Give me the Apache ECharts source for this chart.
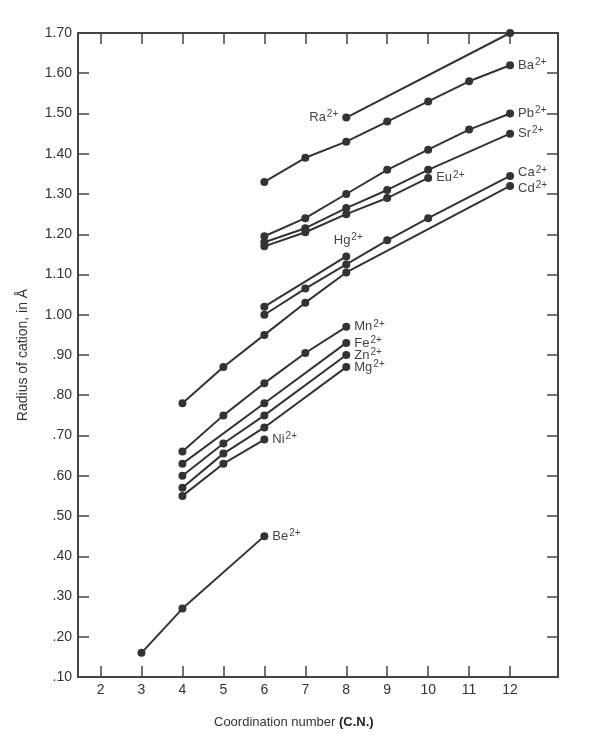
<!DOCTYPE html>
<html>
<head>
<meta charset="utf-8">
<script src="https://cdn.jsdelivr.net/npm/echarts@6.0.0/dist/echarts.min.js"></script>
<style>
  html, body { margin: 0; padding: 0; background: #fff; }
  #main { width: 600px; height: 745px; }
</style>
</head>
<body>
<div id="main"></div>
<script>
// ionic radii of divalent cations vs coordination number, [C.N., radius]
const ra = [[8, 1.49], [12, 1.70]];
const ba = [[6, 1.33], [7, 1.39], [8, 1.43], [9, 1.48], [10, 1.53], [11, 1.58], [12, 1.62]];
const pb = [[6, 1.195], [7, 1.24], [8, 1.30], [9, 1.36], [10, 1.41], [11, 1.46], [12, 1.50]];
const sr = [[6, 1.18], [7, 1.215], [8, 1.265], [9, 1.31], [10, 1.36], [12, 1.45]];
const eu = [[6, 1.17], [7, 1.205], [8, 1.25], [9, 1.29], [10, 1.34]];
const ca = [[6, 1.00], [7, 1.065], [8, 1.125], [9, 1.185], [10, 1.24], [12, 1.345]];
const cd = [[4, 0.78], [5, 0.87], [6, 0.95], [7, 1.03], [8, 1.105], [12, 1.32]];
const hg = [[6, 1.02], [8, 1.145]];
const mn = [[4, 0.66], [5, 0.75], [6, 0.83], [7, 0.905], [8, 0.97]];
const fe = [[4, 0.63], [6, 0.78], [8, 0.93]];
const zn = [[4, 0.60], [5, 0.68], [6, 0.75], [8, 0.90]];
const mg = [[4, 0.57], [5, 0.655], [6, 0.72], [8, 0.87]];
const ni = [[4, 0.55], [5, 0.63], [6, 0.69]];
const be = [[3, 0.16], [4, 0.27], [6, 0.45]];

const xTickValues = [2, 3, 4, 5, 6, 7, 8, 9, 10, 11, 12];
const yTickValues = [0.1, 0.2, 0.3, 0.4, 0.5, 0.6, 0.7, 0.8, 0.9, 1.0, 1.1, 1.2, 1.3, 1.4, 1.5, 1.6, 1.7];
const yTickLabels = ['.10', '.20', '.30', '.40', '.50', '.60', '.70', '.80', '.90',
  '1.00', '1.10', '1.20', '1.30', '1.40', '1.50', '1.60', '1.70'];

const ink = '#333';
const font = 'Liberation Sans';

// which point carries the ion label, and where
const ions = [
  { el: 'Ra', data: ra, at: 0, pos: 'left' },
  { el: 'Ba', data: ba, at: -1, pos: 'right' },
  { el: 'Pb', data: pb, at: -1, pos: 'right' },
  { el: 'Sr', data: sr, at: -1, pos: 'right' },
  { el: 'Eu', data: eu, at: -1, pos: 'right' },
  { el: 'Ca', data: ca, at: -1, pos: 'right', dy: -3 },
  { el: 'Cd', data: cd, at: -1, pos: 'right', dy: 2 },
  { el: 'Hg', data: hg, at: -1, pos: 'top' },
  { el: 'Mn', data: mn, at: -1, pos: 'right' },
  { el: 'Fe', data: fe, at: -1, pos: 'right' },
  { el: 'Zn', data: zn, at: -1, pos: 'right' },
  { el: 'Mg', data: mg, at: -1, pos: 'right' },
  { el: 'Ni', data: ni, at: -1, pos: 'right' },
  { el: 'Be', data: be, at: -1, pos: 'right' }
];

const series = ions.map(function (ion) {
  const idx = ion.at < 0 ? ion.data.length - 1 : ion.at;
  return {
    name: ion.el,
    type: 'line',
    symbol: 'circle',
    symbolSize: 8,
    clip: false,
    lineStyle: { color: ink, width: 2 },
    itemStyle: { color: ink },
    data: ion.data.map(function (p, i) {
      if (i !== idx) return { value: p };
      return {
        value: p,
        label: {
          show: true,
          position: ion.pos,
          distance: 4,
          offset: ion.pos === 'top' ? [2, 0] : [0, ion.dy || 0],
          formatter: '{e|' + ion.el + '}{s|2+}',
          rich: {
            e: { fontFamily: font, fontSize: 13, color: '#444' },
            s: { fontFamily: font, fontSize: 10, color: '#444', padding: [0, 0, 6, 1] }
          }
        }
      };
    })
  };
});

const chart = echarts.init(document.getElementById('main'), null, { renderer: 'canvas' });

const axisLine = { show: true, onZero: false, lineStyle: { color: '#444', width: 2 } };
const tick = { show: true, inside: true, length: 11, lineStyle: { color: '#444', width: 1.5 } };

chart.setOption({
  backgroundColor: '#fff',
  animation: false,
  title: {
    left: 209,
    top: 711,
    text: '{a|Coordination number }{b|(C.N.)}',
    textStyle: {
      fontWeight: 'normal',
      rich: {
        a: { fontFamily: font, fontSize: 13, color: '#333', fontWeight: 'normal' },
        b: { fontFamily: font, fontSize: 13, color: '#222', fontWeight: 'bold' }
      }
    }
  },
  grid: { left: 78, right: 42, top: 33, bottom: 68 },
  xAxis: [
    {
      type: 'value',
      min: 1.45,
      max: 13.17,
      axisLine: axisLine,
      axisTick: Object.assign({ customValues: xTickValues }, tick),
      axisLabel: {
        customValues: xTickValues,
        margin: 6,
        fontFamily: font,
        fontSize: 14,
        color: '#333'
      },
      splitLine: { show: false }
    },
    {
      type: 'value',
      position: 'top',
      min: 1.45,
      max: 13.17,
      axisLine: axisLine,
      axisTick: Object.assign({ customValues: xTickValues }, tick),
      axisLabel: { show: false },
      splitLine: { show: false }
    }
  ],
  yAxis: [
    {
      type: 'value',
      min: 0.1,
      max: 1.7,
      name: 'Radius of cation, in Å',
      nameLocation: 'middle',
      nameGap: 48,
      nameTextStyle: { fontFamily: font, fontSize: 14, color: '#333' },
      axisLine: axisLine,
      axisTick: Object.assign({ customValues: yTickValues }, tick),
      axisLabel: {
        customValues: yTickValues,
        margin: 6,
        fontFamily: font,
        fontSize: 14,
        color: '#333',
        formatter: function (v) {
          const i = yTickValues.findIndex(function (t) { return Math.abs(t - v) < 1e-6; });
          return i >= 0 ? yTickLabels[i] : '';
        }
      },
      splitLine: { show: false }
    },
    {
      type: 'value',
      position: 'right',
      min: 0.1,
      max: 1.7,
      axisLine: axisLine,
      axisTick: Object.assign({ customValues: yTickValues.slice(0, -1) }, tick),
      axisLabel: { show: false },
      splitLine: { show: false }
    }
  ],
  series: series
});
</script>
</body>
</html>
